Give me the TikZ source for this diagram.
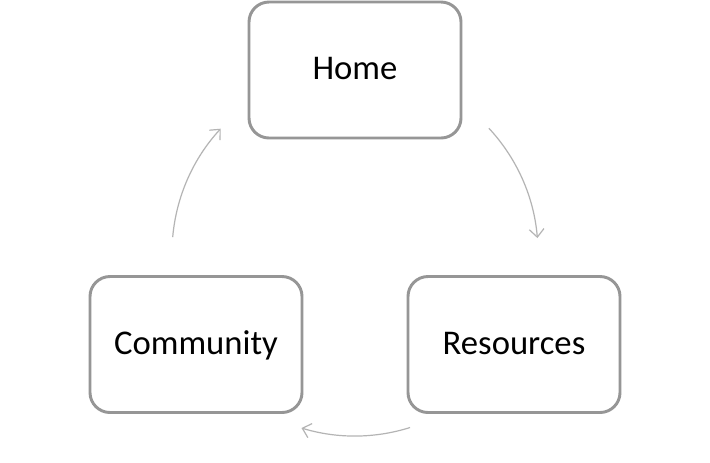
\documentclass[tikz,border=0pt]{standalone}
\usepackage{fontspec}
\setmainfont{Carlito}
\usetikzlibrary{arrows.meta,calc}
\definecolor{boxgray}{HTML}{969696}
\definecolor{arrgray}{HTML}{B4B4B4}
\begin{document}
\begin{tikzpicture}[x=0.75pt,y=-0.75pt,
  stagebox/.style={draw=boxgray, line width=2.2pt, rounded corners=15pt, fill=white,
    minimum width=159pt, minimum height=102pt, inner sep=0pt,
    text height=19.5pt, text depth=5.2pt,
    font=\fontsize{26pt}{31pt}\selectfont},
  cyclearrow/.style={draw=arrgray, line width=0.9pt, -{Straight Barb[length=6pt,width=11pt]}}]
\useasboundingbox[fill=white] (0,0) rectangle (710,462);
\coordinate (c) at (355,253);
\node[stagebox] (home) at (355,70) {Home};
\node[stagebox] (res) at (514,344.5) {Resources};
\node[stagebox] (comm) at (196,344.5) {Community};
\coordinate (a1) at ($(c)+(-43:183)$);
\coordinate (a2) at ($(c)+(72.5:183)$);
\coordinate (a3) at ($(c)+(185:183)$);
\draw[cyclearrow] (a1) arc[start angle=-43, end angle=-4.7, radius=183];
\draw[cyclearrow] (a2) arc[start angle=72.5, end angle=107, radius=183];
\draw[cyclearrow] (a3) arc[start angle=185, end angle=222.8, radius=183];
\end{tikzpicture}
\end{document}
